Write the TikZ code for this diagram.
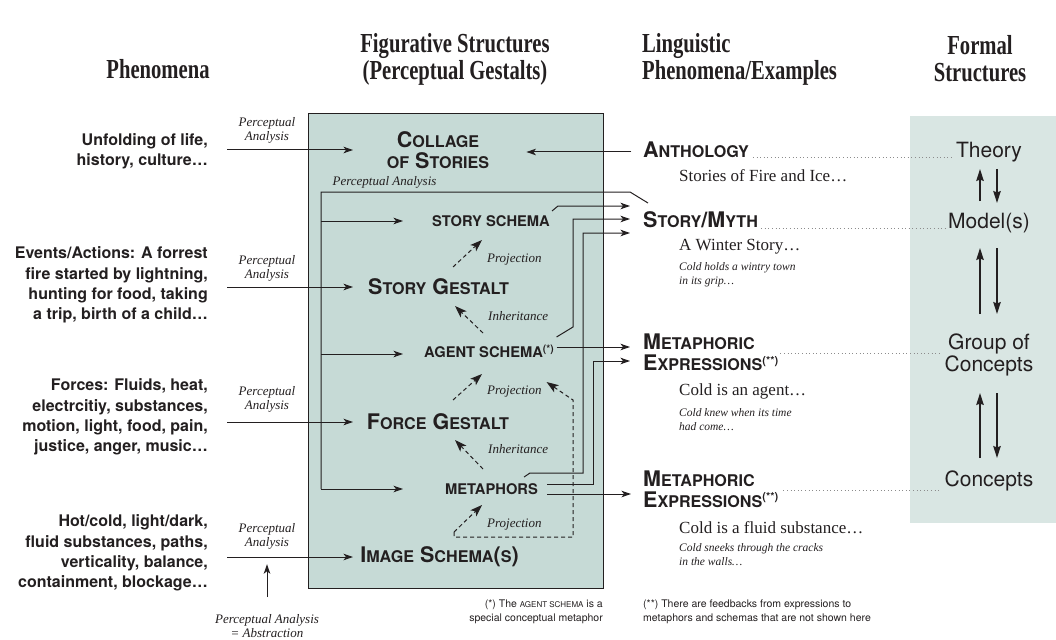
\documentclass[tikz,border=0pt]{standalone}
\usepackage{fontspec}
\setmainfont{Liberation Serif}
\setsansfont{TeX Gyre Heros}
\newfontfamily\headfont[FakeStretch=0.75]{Liberation Serif}
\usetikzlibrary{arrows.meta,calc}

\definecolor{ink}{HTML}{231F20}
\definecolor{boxfill}{HTML}{C6DAD6}
\definecolor{panelfill}{HTML}{D9E6E3}
\definecolor{dotc}{HTML}{8C8C8C}

% small capitals built from reduced upper-case letters
\newcommand\sm[1]{{\edef\smsz{\the\dimexpr0.75\fontdimen6\font\relax}\fontsize{\smsz}{\smsz}\selectfont #1}}
\newcommand\twostar{\raisebox{6.5pt}{\fontsize{11}{11}\selectfont(**)}}

\tikzset{
  every node/.style={inner sep=0pt, text=ink},
  head/.style={font=\headfont\bfseries\fontsize{27.5}{27}\selectfont, align=center},
  phen/.style={font=\sffamily\bfseries\fontsize{16}{20.3}\selectfont, align=right, anchor=east},
  pa/.style={font=\itshape\fontsize{13}{14}\selectfont, align=center},
  rel/.style={font=\itshape\fontsize{13}{14}\selectfont, anchor=west},
  gest/.style={font=\sffamily\bfseries\fontsize{21.5}{21}\selectfont, align=center},
  schem/.style={font=\sffamily\bfseries\fontsize{14.7}{16}\selectfont},
  ling/.style={font=\sffamily\bfseries\fontsize{21.5}{21}\selectfont, anchor=west, align=left},
  ex/.style={font=\fontsize{17}{19}\selectfont, anchor=west},
  exi/.style={font=\itshape\fontsize{11.5}{14}\selectfont, anchor=west, align=left},
  formal/.style={font=\sffamily\fontsize{21}{22}\selectfont, align=center},
  note/.style={font=\sffamily\fontsize{10.5}{14}\selectfont},
  line/.style={draw=ink, line width=1pt},
  arr/.style={line, -{Stealth[length=9.5pt,width=6.5pt,inset=2.5pt]}},
  darr/.style={line, dash pattern=on 4pt off 3pt, -{Stealth[length=12pt,width=8.5pt,inset=3pt]}},
  varr/.style={draw=ink, line width=1.4pt, -{Stealth[length=12pt,width=7.5pt,inset=1.5pt]}},
  dots/.style={draw=dotc, line width=0.8pt, dash pattern=on 0.8pt off 2.8pt},
}

\begin{document}
\begin{tikzpicture}[x=1pt, y=-1pt]
\useasboundingbox (0,0) rectangle (1056,639);

% column headings
\node[head] (h1) at (158,69) {Phenomena};
\node[head] (h2) at (455,59) {Figurative Structures\\(Perceptual Gestalts)};
\node[head, anchor=west, align=left] (h3) at (642,59) {Linguistic\\Phenomena/Examples};
\node[head] (h4) at (980,59) {Formal\\Structures};

% background panels
\node[fill=boxfill, draw=ink, line width=1pt, minimum width=295pt, minimum height=475pt, anchor=north west] (figbox) at (308,113) {};
\node[fill=panelfill, minimum width=146pt, minimum height=407pt, anchor=north west] (panel) at (910,116) {};

% helper columns
\coordinate (xa) at (227,0);
\coordinate (xb) at (353,0);
\coordinate (xv) at (321,0);
\coordinate (xt) at (403,0);

% phenomena
\node[phen] (u1) at (208,151) {Unfolding of life,\\history, culture…};
\node[phen] (ev) at (208,285) {Events/Actions: A forrest\\fire started by lightning,\\hunting for food, taking\\a trip, birth of a child…};
\node[phen] (fo) at (208,417) {Forces: Fluids, heat,\\electrcitiy, substances,\\motion, light, food, pain,\\justice, anger, music…};
\node[phen] (ho) at (208,553) {Hot/cold, light/dark,\\fluid substances, paths,\\verticality, balance,\\containment, blockage…};

\node[pa] (pa1) at (267,130) {Perceptual\\Analysis};
\node[pa] (pa2) at (267,268.5) {Perceptual\\Analysis};
\node[pa] (pa3) at (267,399.5) {Perceptual\\Analysis};
\node[pa] (pa4) at (267,536) {Perceptual\\Analysis};
\node[pa] (pa5) at (267,626) {Perceptual Analysis\\= Abstraction};

% figurative structures
\node[gest] (collage) at (438,150) {C\sm{OLLAGE}\\\sm{OF} S\sm{TORIES}};
\node[pa] (pain) at (384.5,182) {Perceptual Analysis};
\node[schem] (ss) at (491,221) {STORY SCHEMA};
\node[gest] (sg) at (438.5,287) {S\sm{TORY} G\sm{ESTALT}};
\node[schem, anchor=west] (as) at (424,351) {AGENT SCHEMA\textsuperscript{(*)}};
\node[gest] (fg) at (438,422) {F\sm{ORCE} G\sm{ESTALT}};
\node[schem] (me) at (491.5,489) {METAPHORS};
\node[gest] (is) at (439.5,557) {I\sm{MAGE} S\sm{CHEMA}(\sm{S})};

\node[rel] (lp1) at (487,260) {Projection};
\node[rel] (li1) at (488,316) {Inheritance};
\node[rel] (lp2) at (487,392) {Projection};
\node[rel] (li2) at (488,449) {Inheritance};
\node[rel] (lp3) at (487,525) {Projection};

% linguistic phenomena
\node[ling] (an) at (643,150) {A\sm{NTHOLOGY}};
\node[ex] (anx) at (679,176) {Stories of Fire and Ice…};
\node[ling] (sm) at (643,220) {S\sm{TORY}/M\sm{YTH}};
\node[ex] (smx) at (679,247) {A Winter Story…};
\node[exi] (smi) at (679,275) {Cold holds a wintry town\\in its grip…};
\node[ling] (me1) at (643,352.5) {M\sm{ETAPHORIC}\\E\sm{XPRESSIONS}\twostar};
\node[ex] (me1x) at (679,391) {Cold is an agent…};
\node[exi] (me1i) at (679,419.5) {Cold knew when its time\\had come…};
\node[ling] (me2) at (643,489) {M\sm{ETAPHORIC}\\E\sm{XPRESSIONS}\twostar};
\node[ex] (me2x) at (679,528) {Cold is a fluid substance…};
\node[exi] (me2i) at (679,554.5) {Cold sneeks through the cracks\\in the walls…};

% formal structures
\node[formal] (th) at (989,152) {Theory};
\node[formal] (mo) at (989,223) {Model(s)};
\node[formal] (grp) at (989,355) {Group of\\Concepts};
\node[formal] (co) at (989,481) {Concepts};

% notes
\node[note, align=right, anchor=north east] (n1) at (603,600) {(*) The {\fontsize{8}{8}\selectfont AGENT SCHEMA} is a\\special conceptual metaphor};
\node[note, align=left, anchor=north west] (n2) at (643,600) {(**) There are feedbacks from expressions to\\metaphors and schemas that are not shown here};

% perceptual analysis arrows
\draw[arr] (xa |- collage) -- (xb |- collage);
\draw[arr] (xa |- sg) -- (xb |- sg);
\draw[arr] (xa |- fg) -- (xb |- fg);
\draw[arr] (xa |- is) -- (xb |- is);
\draw[arr] ($(pa5.north)+(0,-17)$) -- ($(pa5.north)+(0,-50)$);

% feedback from stories into the schemas
\draw[line] ($(sm.west)+(5,-17)$) -- (630,192) -- (321,192) -- (xv |- me);
\draw[arr] (xv |- ss) -- (xt |- ss);
\draw[arr] (321,354) -- (403,354);
\draw[arr] (xv |- me) -- (xt |- me);

% projection and inheritance
\draw[darr] ($(sg)+(14.5,-20)$) -- ($(ss)+(-9,19)$);
\draw[darr] ($(as.west)+(59,-18)$) -- ($(sg)+(16.5,19)$);
\draw[darr] ($(fg)+(15,-22)$) -- ($(as.west)+(58,23)$);
\draw[darr] ($(me)+(-8.5,-20)$) -- ($(fg)+(17,18)$);
\draw[darr] ($(is)+(14.5,-25)$) -- ($(me)+(-9.5,16)$);
\draw[darr] ($(is)+(14.5,-25)$) -- (454,537) -- (573,537) -- (573,400) -- ($(as.east)+(-8,31)$);

% schemas to linguistic phenomena
\draw[arr] ($(collage.east)+(142,2)$) -- ($(collage.east)+(37,2)$);
\draw[arr] ($(ss.east)+(2,-10)$) -- (558,206) -- ($(sm.west)+(-13,-14)$);
\draw[arr] ($(as.east)+(2,-14)$) -- (573,327) -- (573,219) -- ($(sm.west)+(-13,-1)$);
\draw[arr] ($(me.east)+(-14,-12)$) -- (530,473) -- (583,473) -- (583,233) -- ($(sm.west)+(-13,13)$);
\draw[arr] ($(as.east)+(2,-4)$) -- ($(me1.west)+(-13,-5.5)$);
\draw[arr] ($(me.east)+(9,-5)$) -- (593,484) -- (593,361) -- ($(me1.west)+(-13,8.5)$);
\draw[arr] ($(me.east)+(9,5)$) -- ($(me2.west)+(-12,5)$);

% correspondences to formal structures
\draw[dots] ($(an.east)+(4,7)$) -- ($(th.west)+(-2,5)$);
\draw[dots] ($(sm.east)+(3,8)$) -- ($(mo.west)+(-3,5)$);
\draw[dots] ($(me1.east)+(2,0.5)$) -- ($(grp.west)+(-3,-2)$);
\draw[dots] ($(me2.east)+(5,1)$) -- ($(co.west)+(-3,9)$);

% formal hierarchy
\draw[varr] ($(mo)+(-9,-22)$) -- ($(th)+(-9,17)$);
\draw[varr] ($(th)+(8,17)$) -- ($(mo)+(8,-20)$);
\draw[varr] ($(grp)+(-9,-41)$) -- ($(mo)+(-9,25)$);
\draw[varr] ($(mo)+(8,25)$) -- ($(grp)+(8,-41)$);
\draw[varr] ($(co)+(-9,-23)$) -- ($(grp)+(-9,38)$);
\draw[varr] ($(grp)+(8,38)$) -- ($(co)+(8,-23)$);
\end{tikzpicture}
\end{document}
